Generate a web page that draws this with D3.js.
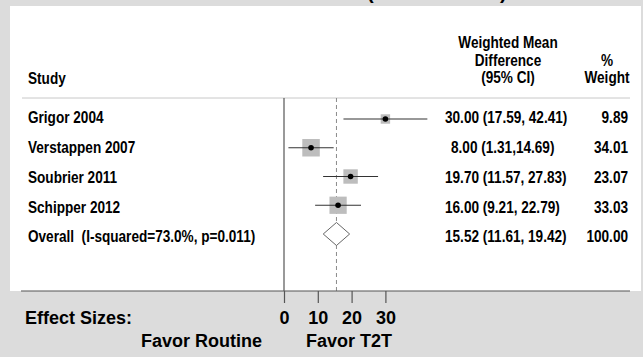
<!DOCTYPE html>
<html>
<head>
<meta charset="utf-8">
<script src="https://cdn.jsdelivr.net/npm/d3@7/dist/d3.min.js"></script>
<style>
  html, body { margin: 0; padding: 0; background: #dcdcdc; }
  svg { display: block; }
  text { font-family: "Liberation Sans", Arial, sans-serif; font-weight: bold; fill: #000; white-space: pre; }
</style>
</head>
<body>
<svg id="chart" width="643" height="357"></svg>
<script>
// ---- data ----
const studies = ["Grigor 2004", "Verstappen 2007", "Soubrier 2011", "Schipper 2012"];
const estimates = [30.00, 8.00, 19.70, 16.00];
const lowerCI = [17.59, 1.31, 11.57, 9.21];
const upperCI = [42.41, 14.69, 27.83, 22.79];
const weights = [9.89, 34.01, 23.07, 33.03];
const ciLabels = ["30.00 (17.59, 42.41)", "8.00 (1.31,14.69)", "19.70 (11.57, 27.83)", "16.00 (9.21, 22.79)"];
const overallLabel = "Overall  (I-squared=73.0%, p=0.011)";
const overallEstimate = 15.52;
const overallLower = 11.61;
const overallUpper = 19.42;
const overallWeight = 100.00;
const overallCiLabel = "15.52 (11.61, 19.42)";
const tickValues = [0, 10, 20, 30];
const headerCI = ["Weighted Mean", "Difference", "(95% CI)"];
const headerWeight = ["%", "Weight"];
const headerStudy = "Study";
const axisLabel = "Effect Sizes:";
const favorLeft = "Favor Routine";
const favorRight = "Favor T2T";
const titleFragments = ["(", ")"];

// ---- layout ----
const svg = d3.select("#chart");
const W = 643, H = 357;
const panel = { x: 10, y: 6, w: 631, h: 285 };
const axisY = 291;
const sepY = 98;
const sx = 0.85; // horizontal compression of the upper panel text

const x = d3.scaleLinear().domain([0, 30]).range([284, 385.4]);
const rowIdx = d3.range(studies.length + 1);
const yText = d3.scalePoint().domain(rowIdx).range([118, 237]);
const yMark = d3.scalePoint().domain(rowIdx).range([119, 234]);
const boxSide = d3.scaleSqrt().domain([0, 34.01]).range([0, 17.5]);

svg.append("rect").attr("width", W).attr("height", H).attr("fill", "#dcdcdc");
svg.append("rect").attr("x", panel.x).attr("y", panel.y)
  .attr("width", panel.w).attr("height", panel.h).attr("fill", "#fff");

// cut-off title fragments at the very top (as in the reference)
svg.selectAll("text.title").data(titleFragments).join("text")
  .attr("class", "title")
  .attr("x", (d, i) => i === 0 ? 367 : 500)
  .attr("y", -1)
  .attr("font-size", 20)
  .text(d => d);

function panelText(g, txt, px, py, anchor, size) {
  return g.append("text")
    .attr("transform", `translate(${px},${py}) scale(${sx},1)`)
    .attr("text-anchor", anchor)
    .attr("dominant-baseline", "central")
    .attr("font-size", size || 16)
    .attr("xml:space", "preserve")
    .text(txt);
}

const g = svg.append("g");

// headers
panelText(g, headerStudy, 28, 79, "start");
headerCI.forEach((t, i) => panelText(g, t, 508, 43 + i * 17.5, "middle"));
headerWeight.forEach((t, i) => panelText(g, t, 607, 60.5 + i * 17.5, "middle"));

// separator
g.append("line").attr("x1", 22).attr("x2", 630).attr("y1", sepY).attr("y2", sepY)
  .attr("stroke", "#c8c8c8").attr("stroke-width", 1);

// null line
g.append("line").attr("x1", x(0)).attr("x2", x(0)).attr("y1", sepY).attr("y2", axisY)
  .attr("stroke", "#555").attr("stroke-width", 1.2);

// overall dashed line
g.append("line").attr("x1", x(overallEstimate)).attr("x2", x(overallEstimate))
  .attr("y1", sepY).attr("y2", axisY)
  .attr("stroke", "#8a8a8a").attr("stroke-width", 1).attr("stroke-dasharray", "4,3");

// study rows
studies.forEach((s, i) => {
  panelText(g, s, 28, yText(i), "start");
  panelText(g, ciLabels[i], 445 + (estimates[i] < 10 ? 6 : 0), yText(i), "start");
  panelText(g, weights[i].toFixed(2), 628, yText(i), "end");
  const ym = yMark(i);
  const side = boxSide(weights[i]);
  g.append("rect").attr("x", x(estimates[i]) - side / 2).attr("y", ym - side / 2)
    .attr("width", side).attr("height", side).attr("fill", "#bdbdbd");
  g.append("line").attr("x1", x(lowerCI[i])).attr("x2", x(upperCI[i]))
    .attr("y1", ym).attr("y2", ym).attr("stroke", "#333").attr("stroke-width", 1.1);
  g.append("circle").attr("cx", x(estimates[i])).attr("cy", ym).attr("r", 2.8).attr("fill", "#000");
});

// overall row
const oi = studies.length;
panelText(g, overallLabel, 28, yText(oi), "start");
panelText(g, overallCiLabel, 445, yText(oi), "start");
panelText(g, overallWeight.toFixed(2), 628, yText(oi), "end");
const yo = yMark(oi), hh = 11.5;
g.append("path")
  .attr("d", `M${x(overallLower)},${yo} L${x(overallEstimate)},${yo - hh} L${x(overallUpper)},${yo} L${x(overallEstimate)},${yo + hh} Z`)
  .attr("fill", "#fff").attr("stroke", "#666").attr("stroke-width", 1);

// axis
svg.append("line").attr("x1", 21).attr("x2", 630).attr("y1", axisY).attr("y2", axisY)
  .attr("stroke", "#555").attr("stroke-width", 1.2);
const axis = d3.axisBottom(x).tickValues(tickValues).tickSize(12).tickPadding(6).tickFormat(d3.format("d"));
const ag = svg.append("g").attr("transform", `translate(0,${axisY})`).call(axis);
ag.select(".domain").remove();
ag.selectAll(".tick line").attr("stroke", "#555").attr("stroke-width", 1.2);
ag.selectAll(".tick text").attr("font-size", 18).attr("font-family", "'Liberation Sans', Arial, sans-serif")
  .attr("font-weight", "bold").attr("fill", "#000").attr("dy", null).attr("y", 27)
  .attr("dominant-baseline", "central");

svg.append("text").attr("x", 25).attr("y", 318).attr("font-size", 18)
  .attr("dominant-baseline", "central").text(axisLabel);
svg.append("text").attr("x", 262).attr("y", 341).attr("font-size", 18)
  .attr("text-anchor", "end").attr("dominant-baseline", "central").text(favorLeft);
svg.append("text").attr("x", 306).attr("y", 341).attr("font-size", 18)
  .attr("dominant-baseline", "central").text(favorRight);
</script>
</body>
</html>
